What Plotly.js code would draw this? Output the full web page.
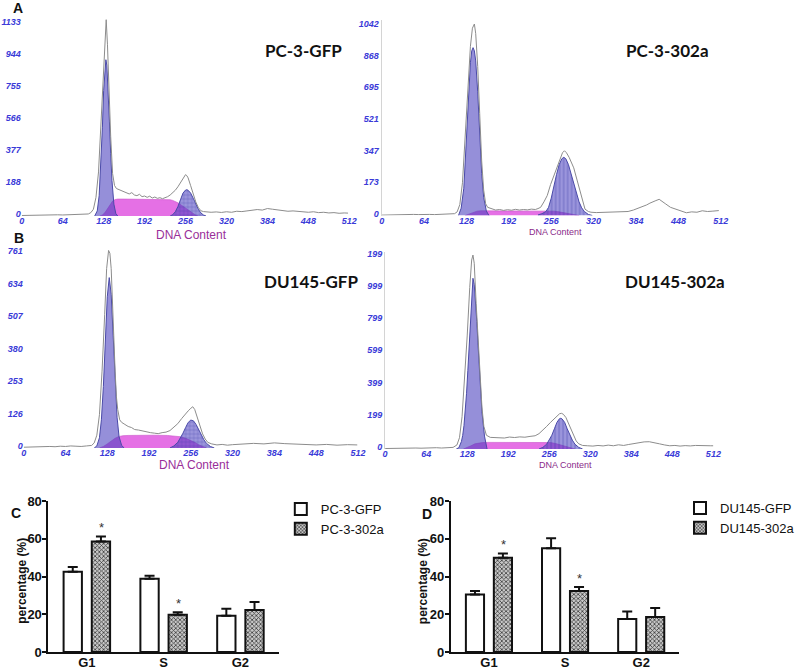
<!DOCTYPE html>
<html>
<head>
<meta charset="utf-8">
<script src="https://cdn.plot.ly/plotly-3.0.1.min.js"></script>
<style>html,body{margin:0;padding:0;background:#fff;}#chart{width:800px;height:671px;}</style>
</head>
<body>
<div id="chart"></div>
<script>
// ---------------- DATA ----------------
// Panel A left: PC-3-GFP (DNA content histogram + ModFit components)
const pc3GfpRawX = [0,8,16,24,32,40,48,56,64,72,80,88,96,104,108,112,116,120,124,127,130,132,134,136,139,142,145,148,152,156,160,164,168,172,176,180,184,188,192,196,200,204,208,212,216,220,224,228,232,236,240,244,248,252,256,258,260,264,268,272,276,280,284,288,296,304,312,320,328,336,344,352,360,368,376,384,392,400,408,416,424,432,440,448,456,464,472,480,488,496,504,510];
const pc3GfpRawY = [3,4,5,4,6,5,6,7,6,8,7,9,10,12,20,40,110,260,560,820,1080,1158,1010,780,470,250,180,162,155,150,142,136,130,138,124,120,128,114,118,110,117,106,112,104,108,102,106,114,124,138,152,172,196,222,244,238,225,179,130,83,50,31,26,24,22,24,21,25,22,28,26,30,34,38,35,44,40,36,32,28,30,26,24,22,25,20,22,18,20,16,18,17];
const pc3GfpG1X = [114,118,121,124,126,128,130,131.5,133,135,137,139,141,144,147,150];
const pc3GfpG1Y = [0,30,120,330,520,740,880,922,890,760,560,370,210,70,15,0];
const pc3GfpSX = [122,126,130,134,138,142,146,150,160,170,180,190,200,210,220,228,232,236,240,244,248,252,256,260,264,268,272,276];
const pc3GfpSY = [0,6,20,45,70,88,97,100,100,100,100,100,100,100,99,98,96,92,86,78,68,57,45,33,22,12,5,0];
const pc3GfpG2X = [232,236,240,244,248,252,256,258,260,264,268,272,276,280,284,288];
const pc3GfpG2Y = [0,8,25,55,95,135,153,155,152,135,105,70,40,18,6,0];

// Panel A right: PC-3-302a
const pc3MirRawX = [0,8,16,24,32,40,48,56,64,72,80,88,96,104,110,114,118,122,126,130,134,137,140,142,145,148,151,154,157,160,166,172,178,184,190,196,202,208,214,220,226,232,236,240,245,250,255,260,265,270,273,276,279,283,287,290,295,300,304,307,312,316,324,332,340,348,356,364,372,380,388,394,400,405,409,414,419,424,429,436,444,452,460,468,476,484,492,500,509];
const pc3MirRawY = [2,3,2,4,3,5,6,5,7,6,5,6,5,6,10,20,60,180,420,700,930,1030,1053,1000,820,560,300,140,65,45,36,30,33,28,32,29,34,30,33,31,35,33,38,45,75,110,170,220,270,320,345,356,345,320,285,262,195,122,65,35,22,18,16,17,15,18,16,19,22,30,40,48,58,68,76,82,89,78,63,45,34,22,15,20,18,26,22,24,27];
const pc3MirG1X = [116,120,124,128,131,134,136,138,140,142,145,148,151,154,158,162];
const pc3MirG1Y = [0,40,150,430,650,840,905,923,905,850,680,430,230,100,25,0];
const pc3MirSX = [126,132,138,144,150,160,180,200,220,240,250,260,268,276,284,292,298];
const pc3MirSY = [0,8,18,24,26,26,26,25,25,26,26,24,20,14,8,3,0];
const pc3MirG2X = [236,242,248,252,256,260,264,268,272,275,278,282,286,290,294,298,302,306,312,318];
const pc3MirG2Y = [3,10,22,45,95,170,225,280,312,320,312,280,230,175,120,75,42,22,6,0];

// Panel B left: DU145-GFP
const du145GfpRawX = [0,8,16,24,32,40,48,56,64,72,80,88,96,104,108,112,116,120,124,127,130,132,134,136,138,140,142,144,147,150,155,160,165,170,176,182,188,194,200,206,212,218,224,230,236,242,248,252,256,259,262,266,270,274,278,282,288,296,304,312,320,336,352,368,384,400,416,432,448,464,480,496,511];
const du145GfpRawY = [3,4,3,5,4,6,5,7,6,8,7,6,8,10,20,50,130,300,520,700,771,760,700,560,400,300,200,150,110,100,92,84,80,72,70,66,62,60,58,56,60,62,68,80,95,115,135,145,155,161,150,120,85,55,35,22,16,12,14,11,13,15,18,16,20,17,15,13,12,14,11,13,12];
const du145GfpG1X = [108,112,116,119,122,125,128,131,134,137,140,143,146,150,154];
const du145GfpG1Y = [0,8,40,110,240,420,590,665,600,440,260,120,45,10,0];
const du145GfpSX = [116,122,128,134,140,146,152,160,180,200,220,232,240,248,256,262,268,274,280];
const du145GfpSY = [0,6,16,28,38,45,48,49,50,50,49,47,44,38,30,22,13,6,0];
const du145GfpG2X = [224,230,236,240,244,248,252,256,260,264,268,272,276,280,286,292];
const du145GfpG2Y = [0,8,22,38,58,80,100,109,106,92,72,50,32,18,6,0];

// Panel B right: DU145-302a
const du145MirRawX = [0,8,16,24,32,40,48,56,64,72,80,88,96,102,106,112,116,120,124,128,132,135,137,139,142,145,148,151,154,158,164,170,178,186,194,202,210,218,226,234,240,246,252,258,264,268,272,275,278,282,286,290,294,298,302,308,316,324,332,340,348,356,364,372,380,388,396,404,412,420,428,436,444,452,460,468,476,484,492,500,508,512];
const du145MirRawY = [3,4,3,5,4,5,6,5,7,6,8,6,7,8,10,25,70,200,420,700,1000,1170,1201,1150,900,700,440,260,140,85,72,70,72,68,74,71,75,73,78,82,95,115,140,165,190,205,218,221,215,195,160,120,80,50,32,22,20,18,22,19,24,20,26,22,28,34,40,44,45,40,32,25,20,22,18,21,19,22,20,21,20,20];
const du145MirG1X = [111,115,119,121,123,125,127,129,131,133,135,137,139,141,143,145,147,149,151,155,159];
const du145MirG1Y = [0,8,46,84,145,230,345,485,640,790,930,1057,1020,930,790,640,480,340,230,80,0];
const du145MirSX = [122,128,134,140,146,152,160,180,200,220,240,250,258,266,274,282,290,296];
const du145MirSY = [0,8,20,32,38,40,41,41,40,40,41,42,40,34,25,15,6,0];
const du145MirG2X = [240,246,252,256,260,264,268,272,274,276,280,284,288,292,296,302,308];
const du145MirG2Y = [0,10,30,55,85,125,165,188,190,186,165,125,85,55,30,10,0];

// Histogram tick labels
const dnaTicks = [0,64,128,192,256,320,384,448,512];
const pc3GfpYTicks = [0,188,377,566,755,944,1133];
const pc3MirYTicks = [0,173,347,521,695,868,1042];
const du145GfpYTicks = [0,126,253,380,507,634,761];
const du145MirYTicks = [0,199,399,599,799,999,1199];
const du145MirYTickText = ['0','199','399','599','799','999','199'];

// Panels C and D: cell-cycle phase percentages
const phases = ['G1','S','G2'];
const pc3Gfp = [42.5, 38.8, 19.2];
const pc3GfpErr = [2.5, 1.6, 3.7];
const pc3Mir = [58.5, 19.7, 22.3];
const pc3MirErr = [2.7, 1.3, 4.2];
const du145Gfp = [30.5, 55.0, 17.5];
const du145GfpErr = [1.8, 5.3, 4.0];
const du145Mir = [50.0, 32.3, 18.5];
const du145MirErr = [2.2, 2.1, 4.8];
const pc3Signif = ['*','*',''];
const du145Signif = ['*','*',''];

// ---------------- LAYOUT HELPERS ----------------
const W = 800, H = 671;
const fx = p => p / W;
const fy = p => 1 - p / H;
const ARIAL = 'Liberation Sans, Arial, sans-serif';

const histTickFont = {family: ARIAL, size: 9, color: '#3a3ad8', style: 'italic', weight: 'bold'};

function histX(x0, x1, anchor) {
  return {domain: [fx(x0), fx(x1)], anchor: anchor, range: [0, 512], tickvals: dnaTicks,
    ticks: '', showgrid: false, zeroline: false, showline: false, tickfont: histTickFont, fixedrange: true,
    ticklabelstandoff: -2};
}
function histY(yBase, yTop, rmax, anchor, tv, tt, line) {
  const o = {domain: [fy(yBase), fy(yTop)], anchor: anchor, range: [0, rmax], tickvals: tv,
    ticks: '', showgrid: false, zeroline: false, showline: !!line, linecolor: '#d4d4d4', linewidth: 1,
    tickfont: histTickFont, fixedrange: true, ticklabelshift: -2};
  if (tt) o.ticktext = tt;
  return o;
}

function histTraces(xa, ya, rawX, rawY, g1X, g1Y, sX, sY, g2X, g2Y, g2shape) {
  return [
    {type: 'scatter', mode: 'lines', x: sX, y: sY, xaxis: xa, yaxis: ya, fill: 'tozeroy',
      fillcolor: 'rgba(228,104,228,0.95)', line: {color: '#c850c8', width: 0.6}, showlegend: false, hoverinfo: 'skip'},
    {type: 'scatter', mode: 'lines', x: g1X, y: g1Y, xaxis: xa, yaxis: ya, fill: 'tozeroy',
      fillcolor: 'rgba(72,62,190,0.58)', line: {color: '#4a4aa8', width: 1}, showlegend: false, hoverinfo: 'skip'},
    {type: 'scatter', mode: 'lines', x: g2X, y: g2Y, xaxis: xa, yaxis: ya, fill: 'tozeroy',
      fillcolor: 'rgba(72,62,190,0.6)',
      fillpattern: {shape: g2shape, size: 4, solidity: 0.2, fgcolor: 'rgba(50,50,160,0.55)', bgcolor: 'rgba(72,62,190,0.55)'},
      line: {color: '#4a4aa8', width: 1}, showlegend: false, hoverinfo: 'skip'},
    {type: 'scatter', mode: 'lines', x: rawX, y: rawY, xaxis: xa, yaxis: ya,
      line: {color: '#8c8c8c', width: 1}, showlegend: false, hoverinfo: 'skip'}
  ];
}

const traces = [].concat(
  histTraces('x', 'y', pc3GfpRawX, pc3GfpRawY, pc3GfpG1X, pc3GfpG1Y, pc3GfpSX, pc3GfpSY, pc3GfpG2X, pc3GfpG2Y, '+'),
  histTraces('x2', 'y2', pc3MirRawX, pc3MirRawY, pc3MirG1X, pc3MirG1Y, pc3MirSX, pc3MirSY, pc3MirG2X, pc3MirG2Y, '|'),
  histTraces('x3', 'y3', du145GfpRawX, du145GfpRawY, du145GfpG1X, du145GfpG1Y, du145GfpSX, du145GfpSY, du145GfpG2X, du145GfpG2Y, '+'),
  histTraces('x4', 'y4', du145MirRawX, du145MirRawY, du145MirG1X, du145MirG1Y, du145MirSX, du145MirSY, du145MirG2X, du145MirG2Y, '|')
);

const zeros = [0, 0, 0];
function barPair(xa, ya, leg, n1, v1, e1, n2, v2, e2) {
  const eb = a => ({type: 'data', array: a, arrayminus: zeros, symmetric: false, color: '#111', thickness: 2, width: 5});
  return [
    {type: 'bar', name: n1, x: phases, y: v1, xaxis: xa, yaxis: ya, legend: leg,
      marker: {color: '#ffffff', line: {color: '#111', width: 2}}, error_y: eb(e1), hoverinfo: 'skip'},
    {type: 'bar', name: n2, x: phases, y: v2, xaxis: xa, yaxis: ya, legend: leg,
      marker: {color: '#b0b0b0', line: {color: '#111', width: 2},
        pattern: {shape: 'x', size: 3, solidity: 0.45, fgcolor: '#3a3a3a', bgcolor: '#c8c8c8'}},
      error_y: eb(e2), hoverinfo: 'skip'}
  ];
}
traces.push(...barPair('x5', 'y5', 'legend', 'PC-3-GFP', pc3Gfp, pc3GfpErr, 'PC-3-302a', pc3Mir, pc3MirErr));
traces.push(...barPair('x6', 'y6', 'legend2', 'DU145-GFP', du145Gfp, du145GfpErr, 'DU145-302a', du145Mir, du145MirErr));

const barTickFont = {family: ARIAL, size: 13, color: '#111', weight: 'bold'};
function barX(x0, x1, anchor) {
  return {domain: [fx(x0), fx(x1)], anchor: anchor, type: 'category', showline: true, linecolor: '#111',
    linewidth: 2, ticks: '', showgrid: false, zeroline: false, tickfont: barTickFont, fixedrange: true,
    ticklabelstandoff: -3};
}
function barY(anchor) {
  return {domain: [fy(652), fy(501)], anchor: anchor, range: [0, 80], tickvals: [0, 20, 40, 60, 80],
    showline: true, linecolor: '#111', linewidth: 2, ticks: 'outside', ticklen: 4, tickwidth: 2, tickcolor: '#111',
    ticklabelstandoff: -2,
    showgrid: false, zeroline: false, tickfont: barTickFont, fixedrange: true};
}

const annotations = [];
function txt(x, y, text, font, extra) {
  annotations.push(Object.assign({xref: 'paper', yref: 'paper', x: fx(x), y: fy(y), text: text,
    showarrow: false, xanchor: 'center', yanchor: 'middle', font: font}, extra || {}));
}
const letterFont = {family: ARIAL, size: 14, color: '#111', weight: 'bold'};
txt(18, 8, 'A', letterFont);
txt(19, 238, 'B', letterFont);
txt(16, 513, 'C', letterFont);
txt(432, 514, 'D', letterFont);
const titleFont = {family: 'Lato, Open Sans, sans-serif', size: 17, color: '#111', weight: 'bold'};
txt(307, 50, 'PC-3-GFP', titleFont);
txt(675, 50, 'PC-3-302a', titleFont);
txt(315, 281, 'DU145-GFP', titleFont);
txt(683, 281, 'DU145-302a', titleFont);
txt(194, 235, 'DNA Content', {family: ARIAL, size: 12, color: '#992e99'});
txt(562, 232, 'DNA Content', {family: ARIAL, size: 9, color: '#8a2a8a'});
txt(197, 465, 'DNA Content', {family: ARIAL, size: 12, color: '#992e99'});
txt(572, 465, 'DNA Content', {family: ARIAL, size: 9, color: '#8a2a8a'});
const yTitleFont = {family: ARIAL, size: 12, color: '#111', weight: 'bold'};
txt(22, 581, 'percentage (%)', yTitleFont, {textangle: -90});
txt(428, 581, 'percentage (%)', yTitleFont, {textangle: -90});

function stars(xa, ya, vals, errs, sig) {
  vals.forEach((v, i) => {
    if (!sig[i]) return;
    annotations.push({xref: xa, yref: ya, x: phases[i], y: v + errs[i], text: sig[i], showarrow: false,
      xshift: 14.5, yshift: -1, yanchor: 'bottom', font: {family: ARIAL, size: 13, color: '#333'}});
  });
}
stars('x5', 'y5', pc3Mir, pc3MirErr, pc3Signif);
stars('x6', 'y6', du145Mir, du145MirErr, du145Signif);

const legendBase = {xanchor: 'left', yanchor: 'top', bgcolor: 'rgba(0,0,0,0)', tracegroupgap: 0,
  font: {family: ARIAL, size: 13, color: '#111'}};

const layout = {
  width: W, height: H, margin: {l: 0, r: 0, t: 0, b: 0},
  paper_bgcolor: '#ffffff', plot_bgcolor: 'rgba(0,0,0,0)',
  barmode: 'group', bargap: 0.266, bargroupgap: 0.35,
  showlegend: true,
  legend: Object.assign({x: fx(284), y: fy(494)}, legendBase),
  legend2: Object.assign({x: fx(688), y: fy(493)}, legendBase),
  xaxis: histX(22, 353.3, 'y'),
  yaxis: histY(216, 17, 1174, 'x', pc3GfpYTicks, null, false),
  xaxis2: histX(386, 729, 'y2'),
  yaxis2: histY(215.5, 20, 1075, 'x2', pc3MirYTicks, null, true),
  xaxis3: histX(24, 362, 'y3'),
  yaxis3: histY(448, 248, 780.5, 'x3', du145GfpYTicks, null, false),
  xaxis4: histX(389.5, 721.5, 'y4'),
  yaxis4: histY(449, 252, 1219.8, 'x4', du145MirYTicks, du145MirYTickText, true),
  xaxis5: barX(49, 282, 'y5'),
  yaxis5: barY('x5'),
  xaxis6: barX(456, 687, 'y6'),
  yaxis6: barY('x6'),
  annotations: annotations
};

Plotly.newPlot('chart', traces, layout, {staticPlot: true, displayModeBar: false});
</script>
</body>
</html>
